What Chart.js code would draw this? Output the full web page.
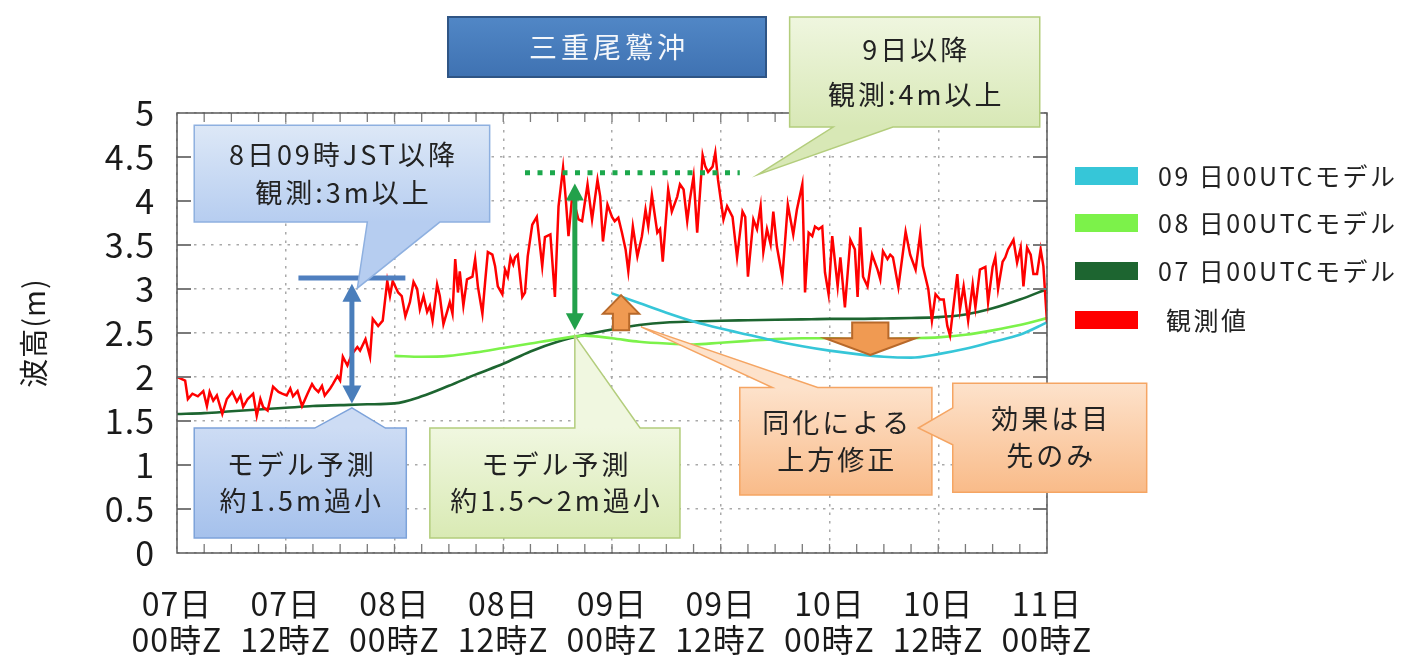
<!DOCTYPE html>
<html lang="ja">
<head>
<meta charset="utf-8">
<title>三重尾鷲沖 波高</title>
<script src="https://cdn.jsdelivr.net/npm/chart.js@4.4.1/dist/chart.umd.min.js"></script>
<style>
  html, body { margin: 0; padding: 0; background: #fff; }
  #wave-chart { display: block; }
</style>
</head>
<body>
<canvas id="wave-chart" width="1407" height="664"></canvas>
<script>
// wave height chart (三重尾鷲沖)

// 1. The data. Hours are counted from 07日00時Z.
const dayLabels = ['07日', '07日', '08日', '08日', '09日', '09日', '10日', '10日', '11日'];
const hourLabels = ['00時Z', '12時Z', '00時Z', '12時Z', '00時Z', '12時Z', '00時Z', '12時Z', '00時Z'];
const yTickLabels = ['0', '0.5', '1', '1.5', '2', '2.5', '3', '3.5', '4', '4.5', '5'];

const seriesNames = ['09 日00UTCモデル', '08 日00UTCモデル', '07 日00UTCモデル', ' 観測値'];

// observed wave height: [hour, metres]
const observed = [
  [0, 2.00], [0.9, 1.96], [1.2, 1.75], [1.7, 1.81], [2.3, 1.78], [2.9, 1.84], [3.3, 1.67], [3.6, 1.83],
  [4.0, 1.73], [4.4, 1.79], [5.0, 1.58], [5.5, 1.75], [6.1, 1.83], [6.6, 1.72], [7.0, 1.79], [7.3, 1.66],
  [7.8, 1.75], [8.4, 1.81], [8.8, 1.56], [9.2, 1.75], [9.5, 1.66], [10.0, 1.62], [10.6, 1.89], [11.2, 1.83],
  [11.6, 1.81], [12.1, 1.79], [12.5, 1.87], [12.8, 1.78], [13.3, 1.84], [13.8, 1.67], [14.4, 1.81], [14.9, 1.92],
  [15.2, 1.87], [15.6, 1.83], [16.0, 1.90], [16.3, 1.79], [16.9, 1.87], [17.2, 1.92], [17.7, 2.01], [18.0, 1.96],
  [18.3, 2.23], [18.8, 2.13], [19.3, 2.26], [19.9, 2.34], [20.2, 2.30], [20.8, 2.43], [21.3, 2.23], [21.6, 2.66],
  [22.2, 2.58], [22.7, 2.64], [23.2, 3.09], [23.5, 2.92], [23.8, 3.09], [24.4, 2.96], [24.8, 2.92], [25.2, 2.69],
  [25.7, 2.85], [26.1, 3.08], [26.5, 3.00], [26.8, 2.77], [27.2, 2.92], [27.6, 2.74], [27.9, 2.81], [28.2, 2.64],
  [28.7, 3.05], [29.0, 2.92], [29.4, 2.60], [29.8, 2.74], [30.1, 2.85], [30.4, 2.72], [30.7, 3.34], [31.0, 2.96],
  [31.2, 3.20], [31.6, 2.81], [32.0, 3.11], [32.6, 3.14], [32.9, 3.34], [33.2, 3.03], [33.7, 2.72], [34.0, 3.08],
  [34.3, 3.42], [34.8, 3.39], [35.1, 3.26], [35.4, 3.03], [35.9, 2.94], [36.2, 3.22], [36.5, 3.14], [36.8, 3.36],
  [37.1, 3.28], [37.3, 3.36], [37.6, 3.39], [38.1, 2.91], [38.4, 2.96], [38.7, 3.37], [39.2, 3.73], [39.7, 3.82],
  [40.3, 3.26], [40.6, 3.59], [41.2, 3.62], [41.7, 2.91], [42.1, 3.94], [42.6, 4.38], [42.9, 4.02], [43.2, 3.60],
  [43.6, 4.05], [43.9, 3.95], [44.3, 3.79], [44.7, 3.77], [45.3, 4.19], [45.8, 3.79], [46.4, 4.24], [46.7, 4.05],
  [47.0, 3.54], [47.5, 3.96], [48.0, 3.82], [48.3, 3.77], [48.7, 3.81], [49.1, 3.64], [49.5, 3.45], [49.8, 3.20],
  [50.3, 3.71], [50.8, 3.37], [51.3, 3.60], [51.7, 3.90], [52.0, 3.71], [52.4, 4.07], [53.0, 3.64], [53.3, 3.68],
  [53.6, 3.31], [54.2, 4.13], [54.6, 3.88], [55.2, 4.05], [55.5, 4.19], [55.9, 4.13], [56.3, 3.77], [56.6, 4.02],
  [57.0, 4.28], [57.4, 3.64], [58.0, 4.52], [58.3, 4.39], [58.6, 4.33], [59.1, 4.39], [59.4, 4.55], [59.7, 4.24],
  [60.3, 3.79], [60.7, 3.94], [61.3, 3.82], [61.8, 3.36], [62.4, 3.88], [62.7, 3.82], [63.0, 3.14], [63.6, 3.79],
  [64.0, 3.68], [64.4, 3.94], [64.7, 3.42], [65.1, 3.68], [65.5, 3.51], [65.8, 3.88], [66.2, 3.48], [66.8, 3.13],
  [67.4, 3.96], [68.0, 3.62], [68.4, 3.90], [69.0, 4.19], [69.3, 2.96], [69.7, 3.64], [70.1, 3.60], [70.4, 3.71],
  [70.8, 3.68], [71.2, 3.71], [71.5, 3.19], [71.9, 2.94], [72.3, 3.60], [72.9, 3.03], [73.2, 3.36], [73.7, 2.79],
  [74.3, 3.56], [74.8, 3.45], [75.1, 2.91], [75.4, 3.70], [75.7, 3.14], [76.2, 3.03], [76.7, 3.39], [77.3, 3.22],
  [77.6, 3.11], [77.9, 3.43], [78.4, 3.34], [78.7, 3.39], [79.0, 3.36], [79.6, 3.02], [80.4, 3.65], [80.9, 3.39],
  [81.5, 3.22], [82.0, 3.62], [82.3, 3.26], [82.9, 3.00], [83.3, 2.64], [83.7, 2.94], [84.2, 2.88], [84.6, 2.88],
  [85.0, 2.58], [85.3, 2.47], [86.1, 3.17], [86.4, 2.77], [86.8, 3.03], [87.3, 2.64], [87.8, 3.05], [88.1, 2.79],
  [88.6, 3.22], [89.2, 3.25], [89.5, 2.85], [90.0, 3.25], [90.3, 3.36], [90.6, 3.00], [91.1, 3.31], [91.4, 3.36],
  [91.7, 3.45], [92.3, 3.56], [92.7, 3.30], [93.1, 3.47], [93.4, 3.03], [93.8, 3.47], [94.2, 3.39], [94.5, 3.17],
  [94.9, 3.17], [95.3, 3.45], [95.6, 3.26], [96.0, 2.62]
];

// model forecasts, every 3 hours
const modelHours = [0, 3, 6, 9, 12, 15, 18, 21, 24, 27, 30, 33, 36, 39, 42, 45, 48,
  51, 54, 57, 60, 63, 66, 69, 72, 75, 78, 81, 84, 87, 90, 93, 96];
const model07 = [1.58, 1.59, 1.61, 1.63, 1.65, 1.67, 1.68, 1.69, 1.70, 1.78, 1.90, 2.03, 2.15, 2.29, 2.40, 2.48, 2.54,
  2.59, 2.62, 2.63, 2.64, 2.645, 2.65, 2.655, 2.66, 2.66, 2.665, 2.67, 2.68, 2.71, 2.78, 2.88, 3.00];
const model08 = [null, null, null, null, null, null, null, null, 2.24, 2.23, 2.24, 2.28, 2.33, 2.38, 2.43, 2.47, 2.44,
  2.40, 2.38, 2.37, 2.39, 2.41, 2.43, 2.44, 2.44, 2.43, 2.43, 2.44, 2.45, 2.48, 2.53, 2.59, 2.67];
const model09 = [null, null, null, null, null, null, null, null, null, null, null, null, null, null, null, null, 2.95,
  2.84, 2.73, 2.63, 2.55, 2.48, 2.41, 2.35, 2.30, 2.26, 2.23, 2.22, 2.26, 2.32, 2.40, 2.48, 2.62];

const seriesColors = ['#36c6d8', '#7cf24a', '#1d6530', '#ff0000'];
const FONT = "'Noto Sans CJK JP', 'Noto Sans', sans-serif";

const toPoints = (values) => modelHours.map((h, i) => ({ x: h, y: values[i] }));

// 2. Helpers for the notes drawn on top of the chart
function calloutPath(ctx, l, t, r, b, tail) {
  const [tx, ty] = tail.tip;
  ctx.beginPath();
  ctx.moveTo(l, t);
  if (tail.side === 'top') { ctx.lineTo(tail.a, t); ctx.lineTo(tx, ty); ctx.lineTo(tail.c, t); }
  ctx.lineTo(r, t);
  ctx.lineTo(r, b);
  if (tail.side === 'bottom') { ctx.lineTo(tail.c, b); ctx.lineTo(tx, ty); ctx.lineTo(tail.a, b); }
  ctx.lineTo(l, b);
  if (tail.side === 'left') { ctx.lineTo(l, tail.c); ctx.lineTo(tx, ty); ctx.lineTo(l, tail.a); }
  ctx.closePath();
}

function textLines(ctx, lines, cx, cy, gap, color, size, spacing) {
  ctx.save();
  ctx.fillStyle = color;
  ctx.font = size + 'px ' + FONT;
  ctx.textAlign = 'center';
  ctx.textBaseline = 'middle';
  if ('letterSpacing' in ctx) ctx.letterSpacing = spacing + 'px';
  const start = cy - (gap * (lines.length - 1)) / 2;
  lines.forEach((s, i) => ctx.fillText(s, cx + spacing / 2, start + i * gap));
  ctx.restore();
}

function doubleArrow(ctx, x, y1, y2, color, shaft, headW, headL) {
  ctx.save();
  ctx.strokeStyle = color;
  ctx.fillStyle = color;
  ctx.lineWidth = shaft;
  ctx.beginPath();
  ctx.moveTo(x, y1 + headL - 2);
  ctx.lineTo(x, y2 - headL + 2);
  ctx.stroke();
  ctx.beginPath();
  ctx.moveTo(x, y1); ctx.lineTo(x - headW / 2, y1 + headL); ctx.lineTo(x + headW / 2, y1 + headL);
  ctx.closePath(); ctx.fill();
  ctx.beginPath();
  ctx.moveTo(x, y2); ctx.lineTo(x - headW / 2, y2 - headL); ctx.lineTo(x + headW / 2, y2 - headL);
  ctx.closePath(); ctx.fill();
  ctx.restore();
}

function blockArrow(ctx, cx, tipY, headY, endY, shaftHalf, headHalf) {
  ctx.save();
  ctx.beginPath();
  ctx.moveTo(cx, tipY);
  ctx.lineTo(cx + headHalf, headY);
  ctx.lineTo(cx + shaftHalf, headY);
  ctx.lineTo(cx + shaftHalf, endY);
  ctx.lineTo(cx - shaftHalf, endY);
  ctx.lineTo(cx - shaftHalf, headY);
  ctx.lineTo(cx - headHalf, headY);
  ctx.closePath();
  ctx.fillStyle = '#f09a52';
  ctx.fill();
  ctx.lineWidth = 2;
  ctx.strokeStyle = '#b8692a';
  ctx.stroke();
  ctx.restore();
}

// callout notes, in chart units (hours, metres)
const callouts = [
  { box: [1.9, 4.86, 34.5, 3.76], tail: { side: 'bottom', a: 21.0, c: 29.0, tip: [19.9, 3.01] },
    fill: ['#dde8f7', '#b6cdf0'], stroke: '#8eb0e0', lines: ['8日09時JST以降', '観測:3m以上'], gap: 38 },
  { box: [1.9, 1.42, 25.3, 0.17], tail: { side: 'top', a: 15.2, c: 23.0, tip: [19.3, 1.65] },
    fill: ['#cddcf4', '#a5c1ec'], stroke: '#7da3da', lines: ['モデル予測', '約1.5m過小'], gap: 36 },
  { box: [67.6, 6.09, 95.2, 4.84], tail: { side: 'bottom', a: 72.4, c: 79.0, tip: [64.1, 4.30] },
    fill: ['#eff6df', '#d8e8b6'], stroke: '#b3cd7c', lines: ['9日以降', '観測:4m以上'], gap: 45 },
  { box: [27.9, 1.42, 55.5, 0.17], tail: { side: 'top', a: 43.9, c: 51.1, tip: [43.9, 2.47] },
    fill: ['#f0f7e0', '#d9eab4'], stroke: '#b3cd7c', lines: ['モデル予測', '約1.5〜2m過小'], gap: 36 },
  { box: [62.1, 1.88, 83.3, 0.66], tail: { side: 'top', a: 65.7, c: 70.7, tip: [51.2, 2.57] },
    fill: ['#fde2cb', '#f9bb89'], stroke: '#f5a563', lines: ['同化による', '上方修正'], gap: 37 },
  { box: [85.6, 1.93, 107.0, 0.69], tail: { side: 'left', a: 1.65, c: 1.23, tip: [81.8, 1.42] },
    fill: ['#fde2cb', '#f9bb89'], stroke: '#f5a563', lines: ['効果は目', '先のみ'], gap: 37 }
];

const decorations = {
  id: 'decorations',
  beforeDraw(chart) {
    // the source font is wide; a little extra spacing for the axis labels
    if ('letterSpacing' in chart.ctx) chart.ctx.letterSpacing = '1px';
  },
  afterDatasetsDraw(chart) {
    const ctx = chart.ctx;
    const area = chart.chartArea;
    const X = (h) => chart.scales.x.getPixelForValue(h);
    const Y = (m) => chart.scales.y.getPixelForValue(m);

    // plot frame and the short inner ticks
    ctx.save();
    ctx.strokeStyle = '#7a7a7a';
    ctx.lineWidth = 2;
    ctx.beginPath();
    for (let m = 0.5; m < 5; m += 0.5) {
      ctx.moveTo(area.left, Y(m)); ctx.lineTo(area.left + 14, Y(m));
      ctx.moveTo(area.right, Y(m)); ctx.lineTo(area.right - 14, Y(m));
    }
    ctx.stroke();
    ctx.lineWidth = 1.3;
    ctx.beginPath();
    for (let h = 3; h < 96; h += 3) {
      ctx.moveTo(X(h), area.top); ctx.lineTo(X(h), area.top + 9);
      ctx.moveTo(X(h), area.bottom); ctx.lineTo(X(h), area.bottom - 9);
    }
    ctx.stroke();
    ctx.strokeStyle = '#5a5a5a';
    ctx.lineWidth = 1.5;
    ctx.strokeRect(area.left, area.top, area.right - area.left, area.bottom - area.top);
    ctx.restore();

    // blue level bar and blue double arrow
    ctx.save();
    ctx.strokeStyle = '#4f7fbf';
    ctx.lineWidth = 5;
    ctx.beginPath();
    ctx.moveTo(X(13.4), Y(3.125)); ctx.lineTo(X(25.2), Y(3.125));
    ctx.stroke();
    ctx.restore();
    doubleArrow(ctx, X(19.3), Y(3.06), Y(1.70), '#4a7ebb', 5, 19, 18);

    // green dotted level and green double arrow
    ctx.save();
    ctx.strokeStyle = '#1ca84c';
    ctx.lineWidth = 5;
    ctx.setLineDash([5, 7.5]);
    ctx.beginPath();
    ctx.moveTo(X(38.4), Y(4.32)); ctx.lineTo(X(62.1), Y(4.32));
    ctx.stroke();
    ctx.restore();
    doubleArrow(ctx, X(43.9), Y(4.20), Y(2.53), '#22a14b', 5, 18, 17);

    // orange block arrows
    blockArrow(ctx, X(49.0), Y(2.93), Y(2.72), Y(2.53), X(49.9) - X(49.0), X(51.0) - X(49.0));
    blockArrow(ctx, X(76.5), Y(2.25), Y(2.44), Y(2.62), X(78.5) - X(76.5), X(81.5) - X(76.5));

    // callout boxes
    callouts.forEach((c) => {
      const l = X(c.box[0]), t = Y(c.box[1]), r = X(c.box[2]), b = Y(c.box[3]);
      const tail = c.tail.side === 'left'
        ? { side: 'left', a: Y(c.tail.a), c: Y(c.tail.c), tip: [X(c.tail.tip[0]), Y(c.tail.tip[1])] }
        : { side: c.tail.side, a: X(c.tail.a), c: X(c.tail.c), tip: [X(c.tail.tip[0]), Y(c.tail.tip[1])] };
      ctx.save();
      const grad = ctx.createLinearGradient(0, t, 0, b);
      grad.addColorStop(0, c.fill[0]);
      grad.addColorStop(1, c.fill[1]);
      calloutPath(ctx, l, t, r, b, tail);
      ctx.fillStyle = grad;
      ctx.fill();
      ctx.lineWidth = 1.5;
      ctx.strokeStyle = c.stroke;
      ctx.stroke();
      ctx.restore();
      textLines(ctx, c.lines, (l + r) / 2, (t + b) / 2, c.gap, '#222', 27, 3);
    });
  },
  afterDraw(chart) {
    const ctx = chart.ctx;

    // title box
    ctx.save();
    const g = ctx.createLinearGradient(0, 17, 0, 77);
    g.addColorStop(0, '#5187c6');
    g.addColorStop(1, '#3f72b2');
    ctx.fillStyle = g;
    ctx.fillRect(448, 17, 318, 60);
    ctx.strokeStyle = '#2f5585';
    ctx.lineWidth = 2;
    ctx.strokeRect(448, 17, 318, 60);
    ctx.restore();
    textLines(ctx, ['三重尾鷲沖'], 607, 47, 0, '#f4f7fb', 28, 4);

    // legend
    const rows = [176, 223, 271, 320];
    ctx.save();
    ctx.font = '25px ' + FONT;
    ctx.textBaseline = 'middle';
    if ('letterSpacing' in ctx) ctx.letterSpacing = '2.5px';
    seriesNames.forEach((name, i) => {
      ctx.fillStyle = seriesColors[i];
      ctx.fillRect(1075, rows[i] - 9, 63, 18);
      ctx.fillStyle = '#222';
      ctx.fillText(name, 1158, rows[i]);
    });
    ctx.restore();
  }
};

// 3. The chart configuration.
const config = {
  type: 'line',
  data: {
    datasets: [
      { label: seriesNames[0], data: toPoints(model09), borderColor: seriesColors[0], order: 1 },
      { label: seriesNames[1], data: toPoints(model08), borderColor: seriesColors[1], order: 2 },
      { label: seriesNames[2], data: toPoints(model07), borderColor: seriesColors[2], order: 3 },
      {
        label: seriesNames[3],
        data: observed.map(([h, v]) => ({ x: h, y: v })),
        borderColor: seriesColors[3],
        borderWidth: 2.5,
        tension: 0,
        cubicInterpolationMode: 'default',
        order: 0
      }
    ]
  },
  options: {
    responsive: false,
    animation: false,
    events: [],
    layout: { padding: { top: 113, right: 360, bottom: 0, left: 0 } },
    elements: {
      point: { radius: 0 },
      line: { borderWidth: 2.6, cubicInterpolationMode: 'monotone', fill: false }
    },
    plugins: {
      legend: { display: false },
      tooltip: { enabled: false }
    },
    scales: {
      x: {
        type: 'linear',
        min: 0,
        max: 96,
        afterFit: (scale) => { scale.height = 111; },
        ticks: {
          stepSize: 12,
          autoSkip: false,
          maxRotation: 0,
          padding: 32,
          color: '#1a1a1a',
          font: { family: FONT, size: 32, lineHeight: 1.15 },
          callback: (v) => [dayLabels[v / 12], hourLabels[v / 12]]
        },
        grid: { color: '#a9a9a9', lineWidth: 1.5, drawTicks: false },
        border: { display: false, dash: [2.5, 6] }
      },
      y: {
        min: 0,
        max: 5,
        afterFit: (scale) => { scale.width = 177; },
        ticks: {
          stepSize: 0.5,
          autoSkip: false,
          padding: 22,
          color: '#1a1a1a',
          font: { family: FONT, size: 34, lineHeight: 1 },
          callback: (v) => yTickLabels[Math.round(v * 2)]
        },
        grid: { color: '#a9a9a9', lineWidth: 1.5, drawTicks: false },
        border: { display: false, dash: [2.5, 6] },
        title: {
          display: true,
          text: '波高(m)',
          color: '#1a1a1a',
          font: { family: FONT, size: 29 },
          padding: { top: 17, bottom: 0 }
        }
      }
    }
  },
  plugins: [decorations]
};

// 4. The chart instance.
const waveChart = new Chart(document.getElementById('wave-chart').getContext('2d'), config);
</script>
</body>
</html>
